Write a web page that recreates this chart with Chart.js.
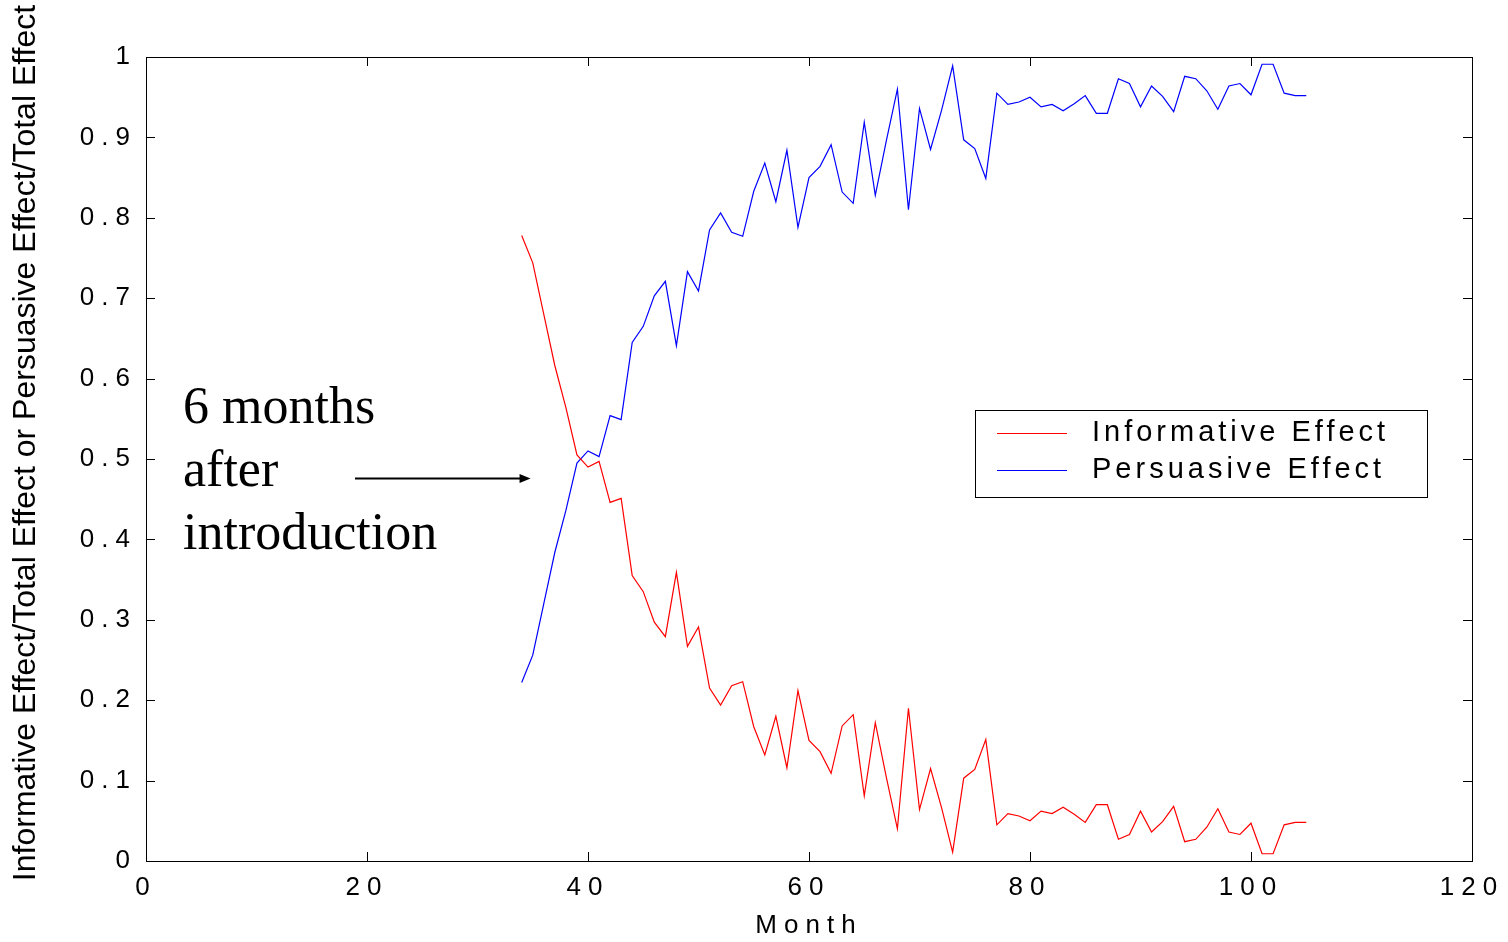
<!DOCTYPE html>
<html>
<head>
<meta charset="utf-8">
<script src="https://cdn.jsdelivr.net/npm/chart.js@4.4.1/dist/chart.umd.min.js"></script>
<style>
html, body { margin: 0; padding: 0; background: #fff; }
#wrap { width: 1508px; height: 942px; }
</style>
</head>
<body>
<div id="wrap"><canvas id="chart"></canvas></div>
<script>
// months since launch
const months = [34, 35, 36, 37, 38, 39, 40, 41, 42, 43, 44, 45, 46, 47, 48, 49, 50, 51,
	52, 53, 54, 55, 56, 57, 58, 59, 60, 61, 62, 63, 64, 65, 66, 67, 68, 69,
	70, 71, 72, 73, 74, 75, 76, 77, 78, 79, 80, 81, 82, 83, 84, 85, 86, 87,
	88, 89, 90, 91, 92, 93, 94, 95, 96, 97, 98, 99, 100, 101, 102, 103, 104, 105]

const informative = [0.778, 0.744, 0.680, 0.616, 0.564, 0.505, 0.490, 0.497, 0.446, 0.451, 0.355, 0.335, 0.297, 0.279, 0.359, 0.267, 0.291, 0.215,
	0.194, 0.218, 0.223, 0.167, 0.132, 0.180, 0.116, 0.212, 0.150, 0.136, 0.109, 0.168, 0.182, 0.081, 0.172, 0.104, 0.040, 0.190,
	0.064, 0.115, 0.066, 0.011, 0.103, 0.114, 0.151, 0.045, 0.059, 0.056, 0.050, 0.062, 0.059, 0.067, 0.058, 0.048, 0.070, 0.070,
	0.027, 0.033, 0.062, 0.036, 0.049, 0.068, 0.024, 0.027, 0.042, 0.065, 0.036, 0.033, 0.047, 0.009, 0.009, 0.045, 0.048, 0.048]

const persuasive = [0.222, 0.256, 0.320, 0.384, 0.436, 0.495, 0.510, 0.503, 0.554, 0.549, 0.645, 0.665, 0.703, 0.721, 0.641, 0.733, 0.709, 0.785,
	0.806, 0.782, 0.777, 0.833, 0.868, 0.820, 0.884, 0.788, 0.850, 0.864, 0.891, 0.832, 0.818, 0.919, 0.828, 0.896, 0.960, 0.810,
	0.936, 0.885, 0.934, 0.989, 0.897, 0.886, 0.849, 0.955, 0.941, 0.944, 0.950, 0.938, 0.941, 0.933, 0.942, 0.952, 0.930, 0.930,
	0.973, 0.967, 0.938, 0.964, 0.951, 0.932, 0.976, 0.973, 0.958, 0.935, 0.964, 0.967, 0.953, 0.991, 0.991, 0.955, 0.952, 0.952]

const series_names = ['Informative Effect', 'Persuasive Effect']
const x_title = 'Month'
const y_title = 'Informative Effect/Total Effect or Persuasive Effect/Total Effect'
const note_lines = ['6 months', 'after', 'introduction']
const note_target = {x: 34.8, y: 0.476}

const sans = '"Liberation Sans", Arial, sans-serif'
const serif = '"Liberation Serif", "Times New Roman", serif'

function points(vals) {
	return months.map((m, i) => ({x: m, y: vals[i]}))
}

const extras = {
	id: 'extras',
	beforeDraw(chart) {
		// matlab-ish spaced out labels
		chart.ctx.letterSpacing = '7px'
	},
	afterDraw(chart) {
		const {ctx, chartArea: a, scales: {x, y}} = chart
		ctx.save()
		ctx.letterSpacing = '0px'

		// box + inward ticks
		ctx.strokeStyle = '#000'
		ctx.lineWidth = 1
		ctx.strokeRect(a.left + 0.5, a.top + 0.5, a.right - a.left, a.bottom - a.top)
		ctx.beginPath()
		for (const t of x.ticks) {
			const px = Math.round(x.getPixelForValue(t.value)) + 0.5
			ctx.moveTo(px, a.bottom); ctx.lineTo(px, a.bottom - 9)
			ctx.moveTo(px, a.top); ctx.lineTo(px, a.top + 9)
		}
		for (const t of y.ticks) {
			const py = Math.round(y.getPixelForValue(t.value)) + 0.5
			ctx.moveTo(a.left, py); ctx.lineTo(a.left + 9, py)
			ctx.moveTo(a.right, py); ctx.lineTo(a.right - 9, py)
		}
		ctx.stroke()

		// y title
		ctx.save()
		ctx.translate(26, 443)
		ctx.rotate(-Math.PI / 2)
		ctx.font = `32px ${sans}`
		ctx.fillStyle = '#000'
		ctx.textAlign = 'center'
		ctx.textBaseline = 'middle'
		ctx.fillText(y_title, 0, 0)
		ctx.restore()

		// legend
		const lx = 975, ly = 410, lw = 452, lh = 87
		ctx.fillStyle = '#fff'
		ctx.fillRect(lx, ly, lw, lh)
		ctx.strokeRect(lx + 0.5, ly + 0.5, lw, lh)
		ctx.font = `29px ${sans}`
		ctx.letterSpacing = '4px'
		ctx.textAlign = 'left'
		ctx.textBaseline = 'middle'
		chart.data.datasets.forEach((ds, i) => {
			const yy = ly + 23 + i * 37
			ctx.strokeStyle = ds.borderColor
			ctx.lineWidth = 1.2
			ctx.beginPath()
			ctx.moveTo(lx + 22, yy + 0.5); ctx.lineTo(lx + 92, yy + 0.5)
			ctx.stroke()
			ctx.fillStyle = '#000'
			ctx.fillText(ds.label, lx + 117, yy)
		})
		ctx.letterSpacing = '0px'

		// note with arrow
		ctx.font = `52px ${serif}`
		ctx.fillStyle = '#000'
		ctx.textBaseline = 'alphabetic'
		note_lines.forEach((s, i) => ctx.fillText(s, 183, 423 + i * 63))
		const ax = x.getPixelForValue(note_target.x)
		const ay = Math.round(y.getPixelForValue(note_target.y)) + 0.5
		ctx.strokeStyle = '#000'
		ctx.lineWidth = 2
		ctx.beginPath()
		ctx.moveTo(355, ay); ctx.lineTo(ax - 8, ay)
		ctx.stroke()
		ctx.beginPath()
		ctx.moveTo(ax, ay); ctx.lineTo(ax - 11, ay - 4.5); ctx.lineTo(ax - 11, ay + 4.5)
		ctx.closePath()
		ctx.fill()
		ctx.restore()
	}
}

new Chart('chart', {
	type: 'line',
	data: {
		datasets: [{
			label: series_names[0],
			data: points(informative),
			borderColor: '#ff0000',
			borderWidth: 1.2,
			pointRadius: 0,
			tension: 0
		}, {
			label: series_names[1],
			data: points(persuasive),
			borderColor: '#0000ff',
			borderWidth: 1.2,
			pointRadius: 0,
			tension: 0
		}]
	},
	options: {
		responsive: true,
		maintainAspectRatio: false,
		animation: false,
		devicePixelRatio: 1,
		layout: {padding: {top: 57, right: 36, left: 0, bottom: 0}},
		plugins: {
			legend: {display: false},
			tooltip: {enabled: false}
		},
		scales: {
			x: {
				type: 'linear',
				min: 0,
				max: 120,
				grid: {display: false, drawTicks: false},
				border: {display: false},
				ticks: {stepSize: 20, color: '#000', font: {family: sans, size: 26}, padding: 11, maxRotation: 0},
				title: {display: true, text: x_title, color: '#000', font: {family: sans, size: 26, lineHeight: 1}, padding: {top: 0, bottom: 3}},
				afterFit: s => { s.height = 81 }
			},
			y: {
				min: 0,
				max: 1,
				grid: {display: false, drawTicks: false},
				border: {display: false},
				ticks: {stepSize: 0.1, color: '#000', font: {family: sans, size: 26}, padding: 9,
					callback: v => String(+v.toFixed(1))},
				title: {display: false, text: y_title},
				afterFit: s => { s.width = 146 }
			}
		}
	},
	plugins: [extras]
})
</script>
</body>
</html>
